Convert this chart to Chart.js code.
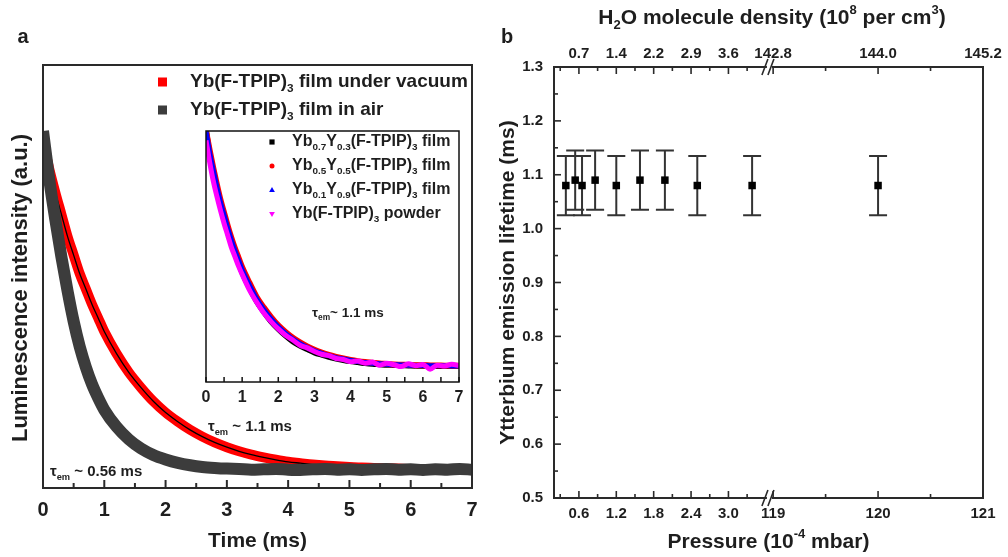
<!DOCTYPE html>
<html>
<head>
<meta charset="utf-8">
<script src="https://cdn.jsdelivr.net/npm/chart.js@4.4.1/dist/chart.umd.min.js"></script>
<style>
  html, body { margin: 0; padding: 0; background: #fff; }
  #wrap { position: relative; width: 1008px; height: 557px; overflow: hidden; }
  canvas { position: absolute; }
</style>
</head>
<body>
<div id="wrap">
  <canvas id="decay" width="500" height="557" style="left:0;top:0"></canvas>
  <canvas id="inset" width="280" height="300" style="left:190px;top:120px"></canvas>
  <canvas id="lifetime" width="518" height="557" style="left:490px;top:0"></canvas>
</div>
<script>
const FONT = '"Liberation Sans", Arial, Helvetica, sans-serif';
const INK = '#1e1e1e';

// ---- panel a: luminescence decay (normalised) ----
const decayTime = [0, 0.1, 0.2, 0.3, 0.4, 0.5, 0.6, 0.7, 0.8, 0.9, 1.0,
  1.2, 1.4, 1.6, 1.8, 2.0, 2.2, 2.4, 2.6, 2.8, 3.0,
  3.2, 3.4, 3.6, 3.8, 4.0, 4.2, 4.4, 4.6, 4.8, 5.0,
  5.2, 5.4, 5.6, 5.8, 6.0, 6.2, 6.4, 6.6, 6.8, 7.0];
const vacuum = [0.97, 0.89, 0.82, 0.755, 0.69, 0.635, 0.58, 0.535, 0.49, 0.45, 0.41,
  0.345, 0.29, 0.245, 0.205, 0.172, 0.145, 0.121, 0.101, 0.084, 0.07,
  0.058, 0.048, 0.04, 0.033, 0.027, 0.023, 0.019, 0.016, 0.014, 0.012,
  0.01, 0.009, 0.008, 0.007, 0.006, 0.006, 0.005, 0.005, 0.005, 0.005];
const air = [1.0, 0.86, 0.74, 0.63, 0.53, 0.44, 0.365, 0.305, 0.255, 0.215, 0.18,
  0.13, 0.093, 0.066, 0.047, 0.034, 0.024, 0.017, 0.012, 0.009, 0.007,
  0.006, 0.004, 0.005, 0.006, 0.004, 0.003, 0.005, 0.006, 0.004, 0.005,
  0.003, 0.005, 0.006, 0.004, 0.005, 0.003, 0.005, 0.004, 0.006, 0.004];
const timeTicks = [0, 1, 2, 3, 4, 5, 6, 7];
const timeLabels = ['0', '1', '2', '3', '4', '5', '6', '7'];
const timeMinor = [0.5, 1.5, 2.5, 3.5, 4.5, 5.5, 6.5];
const mainLegend = [
  [['Yb(F-TPIP)', 'n'], ['3', 'sub'], [' film under vacuum', 'n']],
  [['Yb(F-TPIP)', 'n'], ['3', 'sub'], [' film in air', 'n']],
];
const tauVacuum = [['τ', 'n'], ['em', 'sub'], [' ~ 1.1 ms', 'n']];
const tauAir = [['τ', 'n'], ['em', 'sub'], [' ~ 0.56 ms', 'n']];

// ---- inset ----
const insetYb07 = [1.0, 0.9, 0.825, 0.755, 0.69, 0.635, 0.58, 0.53, 0.485, 0.445, 0.405,
  0.34, 0.283, 0.237, 0.197, 0.165, 0.137, 0.113, 0.095, 0.08, 0.066,
  0.056, 0.047, 0.04, 0.034, 0.029, 0.025, 0.021, 0.018, 0.016, 0.014,
  0.013, 0.012, 0.011, 0.01, 0.01, 0.009, 0.009, 0.009, 0.008, 0.008];
const insetYb05 = [1.0, 0.92, 0.845, 0.775, 0.71, 0.655, 0.6, 0.55, 0.505, 0.465, 0.425,
  0.36, 0.3, 0.255, 0.215, 0.18, 0.152, 0.128, 0.108, 0.091, 0.077,
  0.065, 0.055, 0.047, 0.04, 0.034, 0.029, 0.025, 0.022, 0.019, 0.017,
  0.015, 0.014, 0.013, 0.012, 0.012, 0.011, 0.011, 0.01, 0.01, 0.01];
const insetYb01 = [1.0, 0.91, 0.835, 0.765, 0.7, 0.645, 0.59, 0.54, 0.495, 0.455, 0.415,
  0.35, 0.292, 0.246, 0.207, 0.174, 0.146, 0.122, 0.103, 0.087, 0.073,
  0.062, 0.052, 0.044, 0.038, 0.032, 0.027, 0.023, 0.02, 0.018, 0.016,
  0.014, 0.013, 0.012, 0.011, 0.011, 0.01, 0.01, 0.01, 0.009, 0.009];
const insetPowder = [0.96, 0.87, 0.79, 0.725, 0.665, 0.61, 0.56, 0.51, 0.47, 0.43, 0.395,
  0.33, 0.278, 0.232, 0.196, 0.165, 0.138, 0.118, 0.096, 0.085, 0.07,
  0.058, 0.052, 0.04, 0.036, 0.026, 0.03, 0.02, 0.025, 0.012, 0.02,
  0.014, 0.006, 0.018, 0.01, 0.015, -0.005, 0.012, 0.008, 0.016, 0.01];
const insetLegend = [
  [['Yb', 'n'], ['0.7', 'sub'], ['Y', 'n'], ['0.3', 'sub'], ['(F-TPIP)', 'n'], ['3', 'sub'], [' film', 'n']],
  [['Yb', 'n'], ['0.5', 'sub'], ['Y', 'n'], ['0.5', 'sub'], ['(F-TPIP)', 'n'], ['3', 'sub'], [' film', 'n']],
  [['Yb', 'n'], ['0.1', 'sub'], ['Y', 'n'], ['0.9', 'sub'], ['(F-TPIP)', 'n'], ['3', 'sub'], [' film', 'n']],
  [['Yb(F-TPIP)', 'n'], ['3', 'sub'], [' powder', 'n']],
];
const insetColors = ['#000000', '#ff0000', '#0000ff', '#ff00ff'];
const insetMarkers = ['rect', 'circle', 'triangle', 'triangleDown'];
const tauInset = [['τ', 'n'], ['em', 'sub'], ['~ 1.1 ms', 'n']];

// ---- panel b: lifetime vs pressure ----
const pressure = [0.39, 0.54, 0.65, 0.86, 1.2, 1.58, 1.98, 2.5, 3.38, 120.0];
const lifetime = [1.08, 1.09, 1.08, 1.09, 1.08, 1.09, 1.09, 1.08, 1.08, 1.08];
const lifetimeErr = [0.055, 0.055, 0.055, 0.055, 0.055, 0.055, 0.055, 0.055, 0.055, 0.055];
const pressureTicks = [0.6, 1.2, 1.8, 2.4, 3.0, 119, 120, 121];
const pressureLabels = ['0.6', '1.2', '1.8', '2.4', '3.0', '119', '120', '121'];
const pressureMinor = [0.3, 0.9, 1.5, 2.1, 2.7, 3.3, 119.5, 120.5];
const densityLabels = ['0.7', '1.4', '2.2', '2.9', '3.6', '142.8', '144.0', '145.2'];
const lifetimeTicks = [0.5, 0.6, 0.7, 0.8, 0.9, 1.0, 1.1, 1.2, 1.3];
const lifetimeLabels = ['0.5', '0.6', '0.7', '0.8', '0.9', '1.0', '1.1', '1.2', '1.3'];
const lifetimeMinor = [0.55, 0.65, 0.75, 0.85, 0.95, 1.05, 1.15, 1.25];
const pressureTitle = [['Pressure (10', 'n'], ['-4', 'sup'], [' mbar)', 'n']];
const densityTitle = [['H', 'n'], ['2', 'sub'], ['O molecule density (10', 'n'], ['8', 'sup'],
  [' per cm', 'n'], ['3', 'sup'], [')', 'n']];
// axis break: low segment, high segment, fraction of width for the low one
const pressureBreak = { lo: [0.2, 3.65], hi: [118.96, 121], split: 0.501 };

Chart.defaults.font.family = FONT;
Chart.defaults.font.weight = 'bold';
Chart.defaults.color = INK;

const pts = (xs, ys) => xs.map((x, i) => ({ x, y: ys[i] }));
const setTicks = vals => s => { s.ticks = vals.map(v => ({ value: v })); };

// text with sub/superscripts, vertically centred on y
function rich(ctx, parts, x, y, size, align) {
  const spec = parts.map(([t, m]) => {
    const s = m === 'n' ? size : size * 0.62;
    ctx.font = `bold ${s}px ${FONT}`;
    return { t, m, s, w: ctx.measureText(t).width };
  });
  const total = spec.reduce((a, p) => a + p.w, 0);
  let cx = align === 'center' ? x - total / 2 : align === 'right' ? x - total : x;
  ctx.textAlign = 'left';
  ctx.textBaseline = 'middle';
  for (const p of spec) {
    ctx.font = `bold ${p.s}px ${FONT}`;
    const dy = p.m === 'sub' ? size * 0.33 : p.m === 'sup' ? -size * 0.36 : 0;
    ctx.fillText(p.t, cx, y + dy);
    cx += p.w;
  }
}

function marker(ctx, style, x, y, r) {
  ctx.beginPath();
  if (style === 'rect') ctx.rect(x - r, y - r, 2 * r, 2 * r);
  else if (style === 'circle') ctx.arc(x, y, r, 0, Math.PI * 2);
  else if (style === 'triangle') { ctx.moveTo(x, y - r * 1.2); ctx.lineTo(x + r * 1.1, y + r * 0.8); ctx.lineTo(x - r * 1.1, y + r * 0.8); }
  else { ctx.moveTo(x, y + r * 1.2); ctx.lineTo(x + r * 1.1, y - r * 0.8); ctx.lineTo(x - r * 1.1, y - r * 0.8); }
  ctx.closePath();
  ctx.fill();
}

// box round the plot area plus inward tick marks
const frame = {
  id: 'frame',
  afterDatasetsDraw(chart, args, o) {
    const { ctx, chartArea: a } = chart;
    ctx.save();
    ctx.strokeStyle = o.color;
    ctx.lineWidth = o.width;
    ctx.strokeRect(a.left, a.top, a.right - a.left, a.bottom - a.top);
    ctx.lineWidth = o.tickWidth;
    for (const t of o.ticks) {
      const s = chart.scales[t.scale];
      const draw = (vals, len) => vals.forEach(v => {
        const p = s.getPixelForValue(v);
        ctx.beginPath();
        if (t.edge === 'bottom') { ctx.moveTo(p, a.bottom); ctx.lineTo(p, a.bottom - len); }
        else if (t.edge === 'top') { ctx.moveTo(p, a.top); ctx.lineTo(p, a.top + len); }
        else { ctx.moveTo(a.left, p); ctx.lineTo(a.left + len, p); }
        ctx.stroke();
      });
      draw(t.major, t.majorLen);
      draw(t.minor, t.minorLen);
    }
    ctx.restore();
  }
};

const quiet = {
  responsive: false, animation: false, devicePixelRatio: 1, events: [],
};
const noGrid = { grid: { display: false, drawTicks: false }, border: { display: false } };
const band = { pointRadius: 0, cubicInterpolationMode: 'monotone', borderJoinStyle: 'round', fill: false };

// ---------- panel a ----------
// datasets with a lower index are painted on top
const decayText = {
  id: 'decayText',
  afterDraw(chart) {
    const ctx = chart.ctx;
    ctx.save();
    ctx.fillStyle = INK;
    ctx.font = `bold 20px ${FONT}`;
    ctx.textAlign = 'center';
    ctx.textBaseline = 'middle';
    ctx.fillText('a', 23, 37);
    ctx.save();
    ctx.translate(21, 288);
    ctx.rotate(-Math.PI / 2);
    ctx.font = `bold 22px ${FONT}`;
    ctx.fillText('Luminescence intensity (a.u.)', 0, 0);
    ctx.restore();
    const cols = [chart.data.datasets[2].borderColor, chart.data.datasets[0].borderColor];
    mainLegend.forEach((parts, i) => {
      const y = 82 + i * 28;
      ctx.fillStyle = cols[i];
      ctx.fillRect(158, y - 4.5, 9, 9);
      ctx.fillStyle = INK;
      rich(ctx, parts, 190, y, 19, 'left');
    });
    rich(ctx, tauVacuum, 208, 427, 15, 'left');
    rich(ctx, tauAir, 50, 472, 15, 'left');
    ctx.restore();
  }
};

new Chart(document.getElementById('decay'), {
  type: 'line',
  data: {
    datasets: [
      { label: 'Yb(F-TPIP)3 film in air', data: pts(decayTime, air), borderColor: '#3c3c3c', borderWidth: 12, ...band },
      { label: 'fit', data: pts(decayTime, vacuum), borderColor: '#000000', borderWidth: 1.3, ...band },
      { label: 'Yb(F-TPIP)3 film under vacuum', data: pts(decayTime, vacuum), borderColor: '#ff0000', borderWidth: 10, ...band },
    ]
  },
  options: {
    ...quiet,
    layout: { padding: { top: 65, right: 28, bottom: 0, left: 0 } },
    plugins: {
      legend: { display: false }, tooltip: { enabled: false },
      frame: {
        color: '#2a2a2a', width: 2, tickWidth: 2,
        ticks: [{ scale: 'x', edge: 'bottom', major: timeTicks, minor: timeMinor, majorLen: 8, minorLen: 5 }]
      }
    },
    scales: {
      x: {
        type: 'linear', min: 0, max: 7, bounds: 'data', ...noGrid,
        afterBuildTicks: setTicks(timeTicks),
        afterFit: s => { s.height = 69; },
        ticks: { autoSkip: false, maxRotation: 0, padding: 10, font: { size: 20 }, callback: (v, i) => timeLabels[i] },
        title: { display: true, text: 'Time (ms)', font: { size: 21 }, padding: { top: 0, bottom: 3 } }
      },
      y: {
        min: -0.05, max: 1.194, bounds: 'data', ...noGrid,
        ticks: { display: false },
        afterFit: s => { s.width = 43; }
      }
    }
  },
  plugins: [frame, decayText]
});

// ---------- inset ----------
const insetText = {
  id: 'insetText',
  afterDraw(chart) {
    const ctx = chart.ctx;
    ctx.save();
    insetLegend.forEach((parts, i) => {
      const y = 22 + i * 24;
      ctx.fillStyle = insetColors[i];
      marker(ctx, insetMarkers[i], 82, y, i === 1 ? 2.5 : 2.6);
      ctx.fillStyle = INK;
      rich(ctx, parts, 102, y, 16, 'left');
    });
    rich(ctx, tauInset, 122, 193, 13.5, 'left');
    ctx.restore();
  }
};

new Chart(document.getElementById('inset'), {
  type: 'line',
  data: {
    datasets: [
      { label: 'Yb(F-TPIP)3 powder', data: pts(decayTime, insetPowder), borderColor: insetColors[3], borderWidth: 5, ...band },
      { label: 'Yb0.1Y0.9(F-TPIP)3 film', data: pts(decayTime, insetYb01), borderColor: insetColors[2], borderWidth: 5, ...band },
      { label: 'Yb0.5Y0.5(F-TPIP)3 film', data: pts(decayTime, insetYb05), borderColor: insetColors[1], borderWidth: 6, ...band },
      { label: 'Yb0.7Y0.3(F-TPIP)3 film', data: pts(decayTime, insetYb07), borderColor: insetColors[0], borderWidth: 6, ...band },
    ]
  },
  options: {
    ...quiet,
    layout: { padding: { top: 11, right: 11, bottom: 0, left: 0 } },
    plugins: {
      legend: { display: false }, tooltip: { enabled: false },
      frame: {
        color: '#111111', width: 1.5, tickWidth: 1.5,
        ticks: [{ scale: 'x', edge: 'bottom', major: timeTicks, minor: timeMinor, majorLen: 5, minorLen: 5 }]
      }
    },
    scales: {
      x: {
        type: 'linear', min: 0, max: 7, bounds: 'data', ...noGrid,
        afterBuildTicks: setTicks(timeTicks),
        afterFit: s => { s.height = 38; },
        ticks: { autoSkip: false, maxRotation: 0, padding: 6, font: { size: 16 }, callback: (v, i) => timeLabels[i] }
      },
      y: {
        min: -0.059, max: 1.0, bounds: 'data', ...noGrid,
        ticks: { display: false },
        afterFit: s => { s.width = 16; }
      }
    }
  },
  plugins: [frame, insetText]
});

// ---------- panel b ----------
class BrokenScale extends Chart.LinearScale {
  getPixelForValue(value) {
    const { lo, hi, split } = pressureBreak;
    const cut = this.left + (this.right - this.left) * split;
    if (value <= lo[1]) return this.left + (value - lo[0]) / (lo[1] - lo[0]) * (cut - this.left);
    return cut + (value - hi[0]) / (hi[1] - hi[0]) * (this.right - cut);
  }
}
BrokenScale.id = 'broken';
BrokenScale.defaults = Chart.LinearScale.defaults;
Chart.register(BrokenScale);

const errorBars = {
  id: 'errorBars',
  beforeDatasetsDraw(chart) {
    const { ctx, scales: { x, y } } = chart;
    ctx.save();
    ctx.strokeStyle = '#333333';
    ctx.lineWidth = 2;
    pressure.forEach((p, i) => {
      const px = x.getPixelForValue(p);
      const top = y.getPixelForValue(lifetime[i] + lifetimeErr[i]);
      const bot = y.getPixelForValue(lifetime[i] - lifetimeErr[i]);
      ctx.beginPath();
      ctx.moveTo(px, top); ctx.lineTo(px, bot);
      ctx.moveTo(px - 9, top); ctx.lineTo(px + 9, top);
      ctx.moveTo(px - 9, bot); ctx.lineTo(px + 9, bot);
      ctx.stroke();
    });
    ctx.restore();
  }
};

const lifetimeText = {
  id: 'lifetimeText',
  afterDraw(chart) {
    const { ctx, chartArea: a } = chart;
    const cut = chart.scales.x.getPixelForValue(pressureBreak.lo[1]);
    ctx.save();
    // axis break marks
    for (const yy of [a.top, a.bottom]) {
      ctx.fillStyle = '#ffffff';
      ctx.fillRect(cut - 2, yy - 2, 5, 4);
      ctx.strokeStyle = '#2a2a2a';
      ctx.lineWidth = 1.6;
      ctx.beginPath();
      ctx.moveTo(cut - 7, yy + 8); ctx.lineTo(cut - 1, yy - 8);
      ctx.moveTo(cut - 1, yy + 8); ctx.lineTo(cut + 5, yy - 8);
      ctx.stroke();
    }
    ctx.fillStyle = INK;
    ctx.font = `bold 20px ${FONT}`;
    ctx.textAlign = 'center';
    ctx.textBaseline = 'middle';
    ctx.fillText('b', 17, 37);
    rich(ctx, densityTitle, 282, 18, 21, 'center');
    rich(ctx, pressureTitle, (a.left + a.right) / 2, 542, 21, 'center');
    ctx.restore();
  }
};

const brokenAxis = {
  type: 'broken', min: 0.2, max: 121, bounds: 'data', ...noGrid,
  afterBuildTicks: setTicks(pressureTicks),
};

new Chart(document.getElementById('lifetime'), {
  type: 'scatter',
  data: {
    datasets: [{
      label: 'Ytterbium emission lifetime', data: pts(pressure, lifetime),
      pointStyle: 'rect', pointRadius: 5.3, backgroundColor: '#000000', borderColor: '#000000', borderWidth: 0
    }]
  },
  options: {
    ...quiet,
    layout: { padding: { top: 0, right: 25, bottom: 0, left: 0 } },
    plugins: {
      legend: { display: false }, tooltip: { enabled: false },
      frame: {
        color: '#2a2a2a', width: 2, tickWidth: 1.6,
        ticks: [
          { scale: 'y', edge: 'left', major: lifetimeTicks, minor: lifetimeMinor, majorLen: 7, minorLen: 4 },
          { scale: 'x', edge: 'bottom', major: pressureTicks, minor: pressureMinor, majorLen: 7, minorLen: 4 },
          { scale: 'x2', edge: 'top', major: pressureTicks, minor: pressureMinor, majorLen: 7, minorLen: 4 },
        ]
      }
    },
    scales: {
      x: {
        ...brokenAxis, position: 'bottom',
        afterFit: s => { s.height = 59; },
        ticks: { autoSkip: false, maxRotation: 0, padding: 7, font: { size: 15 }, callback: (v, i) => pressureLabels[i] }
      },
      x2: {
        ...brokenAxis, position: 'top', axis: 'x',
        afterFit: s => { s.height = 67; },
        ticks: { autoSkip: false, maxRotation: 0, padding: 4, font: { size: 15 }, callback: (v, i) => densityLabels[i] }
      },
      y: {
        min: 0.5, max: 1.3, bounds: 'data', ...noGrid,
        afterBuildTicks: setTicks(lifetimeTicks),
        afterFit: s => { s.width = 64; },
        ticks: { autoSkip: false, padding: 11, font: { size: 15 }, callback: (v, i) => lifetimeLabels[i] },
        title: { display: true, text: 'Ytterbium emission lifetime (ms)', font: { size: 21 }, padding: { top: 6, bottom: 0 } }
      }
    }
  },
  plugins: [errorBars, frame, lifetimeText]
});
</script>
</body>
</html>
